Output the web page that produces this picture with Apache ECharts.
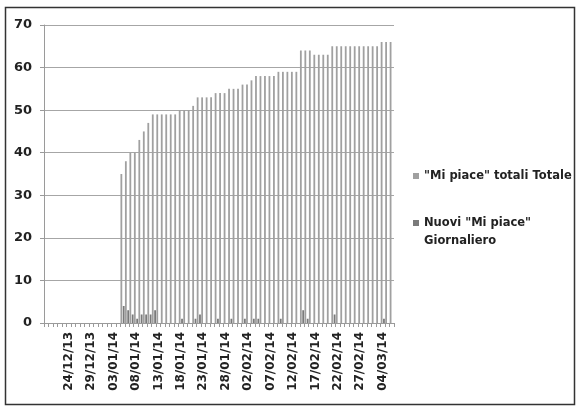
<!DOCTYPE html>
<html>
<head>
<meta charset="utf-8">
<script src="https://cdn.jsdelivr.net/npm/echarts@6/dist/echarts.min.js"></script>
<style>
  html, body { margin: 0; padding: 0; background: #fff; }
  #chart { width: 577px; height: 406px; }
</style>
</head>
<body>
<div id="chart"></div>
<script>
// Daily dates, 19/12/13 to 06/03/14
const dates = [
  '19/12/13','20/12/13','21/12/13','22/12/13','23/12/13','24/12/13','25/12/13','26/12/13','27/12/13','28/12/13','29/12/13','30/12/13','31/12/13',
  '01/01/14','02/01/14','03/01/14','04/01/14','05/01/14','06/01/14','07/01/14','08/01/14','09/01/14','10/01/14','11/01/14','12/01/14','13/01/14',
  '14/01/14','15/01/14','16/01/14','17/01/14','18/01/14','19/01/14','20/01/14','21/01/14','22/01/14','23/01/14','24/01/14','25/01/14','26/01/14',
  '27/01/14','28/01/14','29/01/14','30/01/14','31/01/14',
  '01/02/14','02/02/14','03/02/14','04/02/14','05/02/14','06/02/14','07/02/14','08/02/14','09/02/14','10/02/14','11/02/14','12/02/14','13/02/14',
  '14/02/14','15/02/14','16/02/14','17/02/14','18/02/14','19/02/14','20/02/14','21/02/14','22/02/14','23/02/14','24/02/14','25/02/14','26/02/14',
  '27/02/14','28/02/14',
  '01/03/14','02/03/14','03/03/14','04/03/14','05/03/14','06/03/14'
];

// Cumulative total likes per day
const totaleLikes = [
  0,0,0,0,0,0,0,0,0,0,0,0,0,0,0,0,0,
  35,38,40,40,43,45,47,49,49,49,49,49,49,
  50,50,50,51,53,53,53,53,54,54,54,55,55,55,
  56,56,57,58,58,58,58,58,59,59,59,59,59,
  64,64,64,63,63,63,63,
  65,65,65,65,65,65,65,65,65,65,65,
  66,66,66
];

// New likes per day
const nuoviLikes = [
  0,0,0,0,0,0,0,0,0,0,0,0,0,0,0,0,0,
  4,3,2,1,2,2,2,3,0,0,0,0,0,
  1,0,0,1,2,0,0,0,1,0,0,1,0,0,
  1,0,1,1,0,0,0,0,1,0,0,0,0,
  3,1,0,0,0,0,0,
  2,0,0,0,0,0,0,0,0,0,0,
  1,0,0
];

const yTicks = { min: 0, max: 70, interval: 10 };

const seriesNames = ['"Mi piace" totali Totale', 'Nuovi "Mi piace"\nGiornaliero'];

const chart = echarts.init(document.getElementById('chart'), null, { renderer: 'canvas' });

const labelFont = 'DejaVu Sans';
const axisGray = '#9a9a9a';

chart.setOption({
  animation: false,
  backgroundColor: '#ffffff',
  grid: { left: 44, right: 183, top: 25, bottom: 83, containLabel: false },
  legend: [
    {
      data: [seriesNames[0]],
      left: 413, top: 170, padding: 0,
      orient: 'vertical',
      icon: 'rect', itemWidth: 6, itemHeight: 6,
      textStyle: { fontFamily: labelFont, fontWeight: 'bold', fontSize: 11.5, color: '#222' }
    },
    {
      // square sits beside the first of the two text lines
      data: [seriesNames[1]],
      left: 413, top: 214, padding: 0,
      orient: 'vertical',
      icon: 'path://M0,0L6,0L6,6L0,6Z M0,24',
      itemWidth: 6, itemHeight: 24,
      textStyle: { fontFamily: labelFont, fontWeight: 'bold', fontSize: 11.5, color: '#222', lineHeight: 18 }
    }
  ],
  xAxis: {
    type: 'category',
    data: dates,
    boundaryGap: true,
    axisLine: { lineStyle: { color: axisGray, width: 1 } },
    axisTick: { show: true, interval: 0, length: 4, lineStyle: { color: axisGray } },
    axisLabel: {
      rotate: 90,
      margin: 9,
      interval: function (index) { return index > 0 && index % 5 === 0; },
      fontFamily: labelFont, fontWeight: 'bold', fontSize: 12, color: '#222'
    },
    splitLine: { show: false }
  },
  yAxis: {
    type: 'value',
    min: yTicks.min, max: yTicks.max, interval: yTicks.interval,
    axisLine: { show: true, lineStyle: { color: axisGray, width: 1 } },
    axisTick: { show: true, length: 4, lineStyle: { color: axisGray } },
    axisLabel: { margin: 12, fontFamily: labelFont, fontWeight: 'bold', fontSize: 13, color: '#222' },
    splitLine: { show: true, lineStyle: { color: '#a6a6a6', width: 1.2 } }
  },
  series: [
    {
      name: seriesNames[0],
      type: 'bar',
      data: totaleLikes,
      barWidth: 1.8,
      barGap: '30%',
      itemStyle: { color: '#a0a0a0' }
    },
    {
      name: seriesNames[1],
      type: 'bar',
      data: nuoviLikes,
      barWidth: 1.8,
      itemStyle: { color: '#7a7a7a' }
    }
  ],
  graphic: [
    {
      type: 'rect',
      shape: { x: 5.5, y: 7.5, width: 569, height: 397 },
      style: { fill: 'none', stroke: '#333', lineWidth: 1.5 },
      silent: true
    }
  ]
});
</script>
</body>
</html>
